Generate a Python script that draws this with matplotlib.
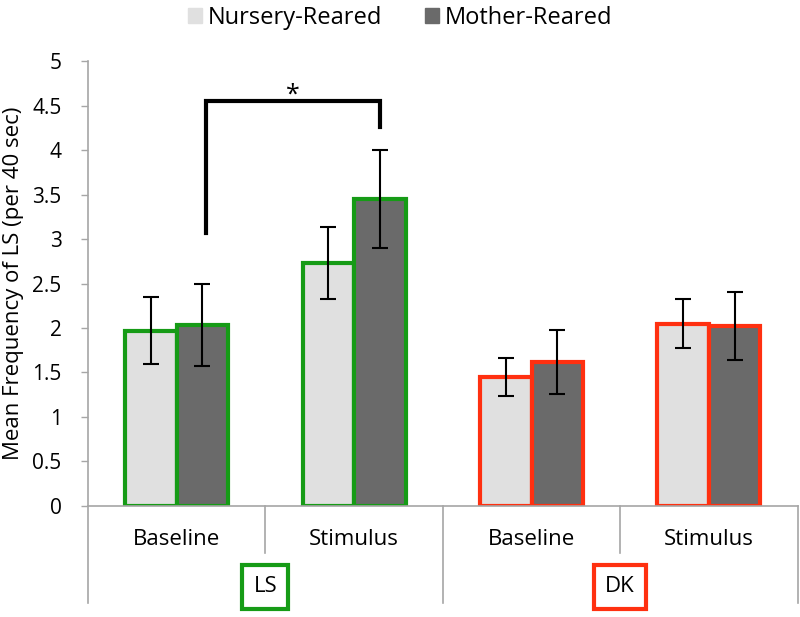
import matplotlib
matplotlib.use('Agg')
import matplotlib.pyplot as plt
import numpy as np

plt.rcParams['font.family'] = ['Open Sans', 'DejaVu Sans']

conditions = ['Baseline', 'Stimulus', 'Baseline', 'Stimulus']
groups = ['LS', 'DK']
group_colors = ['#169b16', '#ff3010']
nursery = [1.97, 2.73, 1.45, 2.05]
nursery_err = [0.38, 0.40, 0.21, 0.28]
mother = [2.03, 3.45, 1.62, 2.02]
mother_err = [0.46, 0.55, 0.36, 0.38]
edge_cols = [group_colors[0], group_colors[0], group_colors[1], group_colors[1]]

fig = plt.figure(figsize=(8, 6.17), dpi=100)
ax = fig.add_axes([0.11, 0.18, 0.887, 0.721])

x = np.arange(len(conditions))
w = 0.29
grey = '#a6a6a6'
ax.bar(x - w / 2, nursery, w, color='#e0e0e0', edgecolor=edge_cols, linewidth=3, zorder=2)
ax.bar(x + w / 2, mother, w, color='#6a6a6a', edgecolor=edge_cols, linewidth=3, zorder=2)
ax.errorbar(x - w / 2, nursery, yerr=nursery_err, fmt='none', ecolor='black', elinewidth=1.5, capsize=6, capthick=1.5, zorder=3)
ax.errorbar(x + w / 2, mother, yerr=mother_err, fmt='none', ecolor='black', elinewidth=1.5, capsize=6, capthick=1.5, zorder=3)

ax.set_xlim(-0.5, 3.5)
ax.set_ylim(0, 5)
ax.set_yticks(np.arange(0, 5.01, 0.5))
ax.set_yticklabels(['0', '0.5', '1', '1.5', '2', '2.5', '3', '3.5', '4', '4.5', '5'], fontsize=15)
ax.tick_params(axis='y', color=grey, length=5, width=1, pad=14)
ax.set_xticks([])
for s in ['top', 'right']:
    ax.spines[s].set_visible(False)
ax.spines['left'].set_color(grey)
ax.spines['bottom'].set_color(grey)
ax.spines['left'].set_linewidth(1.2)
ax.spines['bottom'].set_linewidth(1.2)
ax.set_ylabel('Mean Frequency of LS (per 40 sec)', fontsize=16, labelpad=6)

# category axis separators and labels
tr = ax.get_xaxis_transform()
for xs in [0.5, 2.5]:
    ax.plot([xs, xs], [0, -0.106], color=grey, lw=1.2, transform=tr, clip_on=False)
for xs in [-0.5, 1.5, 3.5]:
    ax.plot([xs, xs], [0, -0.218], color=grey, lw=1.2, transform=tr, clip_on=False)
for xi, lab in zip(x, conditions):
    ax.text(xi, -0.076, lab, transform=tr, ha='center', va='center', fontsize=16)
for gi, (g, c) in enumerate(zip(groups, group_colors)):
    ax.text(0.5 + 2 * gi, -0.182, g, transform=tr, ha='center', va='center', fontsize=16,
            bbox=dict(boxstyle='square,pad=0.5', fc='white', ec=c, lw=3))

# significance bracket
bx0, bx1 = x[0] + w / 2 + 0.02, x[1] + w / 2
ax.plot([bx0, bx0, bx1, bx1], [3.07, 4.55, 4.55, 4.26], color='black', lw=3, solid_joinstyle='miter', zorder=4)
ax.text((bx0 + bx1) / 2, 4.62, '*', ha='center', va='center', fontsize=18)

# legend
h1 = plt.Rectangle((0, 0), 1, 1, color='#e0e0e0')
h2 = plt.Rectangle((0, 0), 1, 1, color='#6a6a6a')
fig.legend([h1, h2], ['Nursery-Reared', 'Mother-Reared'], loc='upper center', bbox_to_anchor=(0.5, 1.025),
           ncol=2, frameon=False, fontsize=17, handlelength=0.6, handleheight=0.6, handletextpad=0.25, columnspacing=1.8)

fig.savefig('out.png', dpi=100)
